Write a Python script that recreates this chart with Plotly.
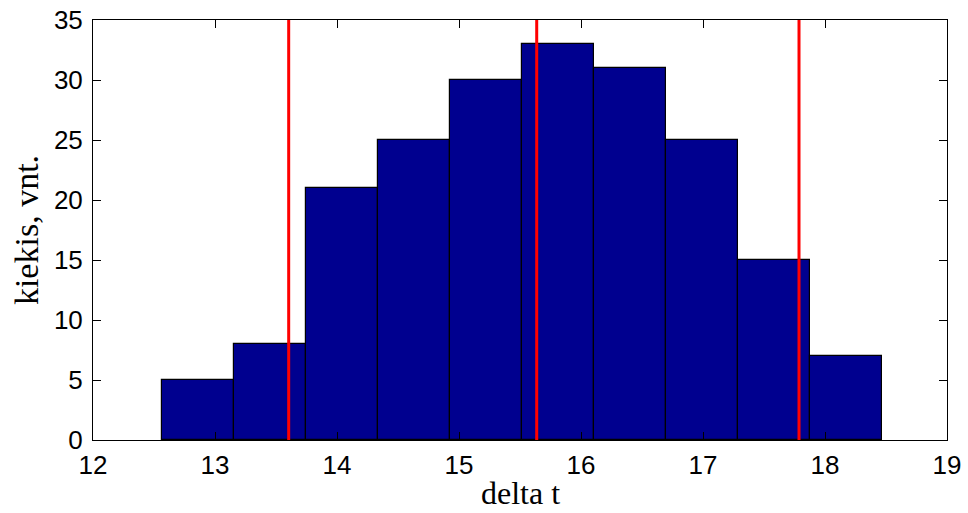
import plotly.graph_objects as go

bin_centers = [12.863, 13.453, 14.043, 14.633, 15.223, 15.813, 16.403, 16.993, 17.583, 18.173]
bin_width = 0.590
counts = [5, 8, 21, 25, 30, 33, 31, 25, 15, 7]
red_lines = [13.604, 15.637, 17.787]
x_ticks = [12, 13, 14, 15, 16, 17, 18, 19]
y_ticks = [0, 5, 10, 15, 20, 25, 30, 35]
x_title = "delta t"
y_title = "kiekis, vnt."

fig = go.Figure()
fig.add_trace(go.Bar(
    x=bin_centers, y=counts, width=bin_width,
    marker=dict(color="rgb(0,0,143)", line=dict(color="black", width=1.2)),
    showlegend=False, hoverinfo="x+y",
))
for v in red_lines:
    fig.add_trace(go.Scatter(
        x=[v, v], y=[0, 35], mode="lines",
        line=dict(color="rgb(255,0,0)", width=3),
        showlegend=False, hoverinfo="x",
    ))

axis_common = dict(
    showline=True, linecolor="black", linewidth=1, mirror="ticks",
    ticks="inside", ticklen=8, tickcolor="black", tickwidth=1,
    showgrid=False, zeroline=False, automargin=False,
    tickfont=dict(family="Liberation Sans, Arial", size=26, color="black"),
)

fig.update_layout(
    width=968, height=513,
    margin=dict(l=93, r=21, t=20, b=73),
    paper_bgcolor="white", plot_bgcolor="white",
    bargap=0,
    xaxis=dict(range=[12, 19], tickvals=x_ticks, ticktext=[str(t) for t in x_ticks],
               ticklabelstandoff=2, **axis_common),
    yaxis=dict(range=[0, 35], tickvals=y_ticks, ticktext=[str(t) for t in y_ticks],
               ticklabelstandoff=4,
               title=dict(text=y_title, font=dict(family="Liberation Serif, Times New Roman", size=34, color="black"), standoff=4),
               **axis_common),
    annotations=[dict(
        text=x_title, xref="paper", yref="paper", x=0.5, y=-0.171,
        xanchor="center", yanchor="bottom", showarrow=False, borderpad=0,
        font=dict(family="Liberation Serif, Times New Roman", size=32, color="black"),
    )],
)

fig.write_html("out.html")
